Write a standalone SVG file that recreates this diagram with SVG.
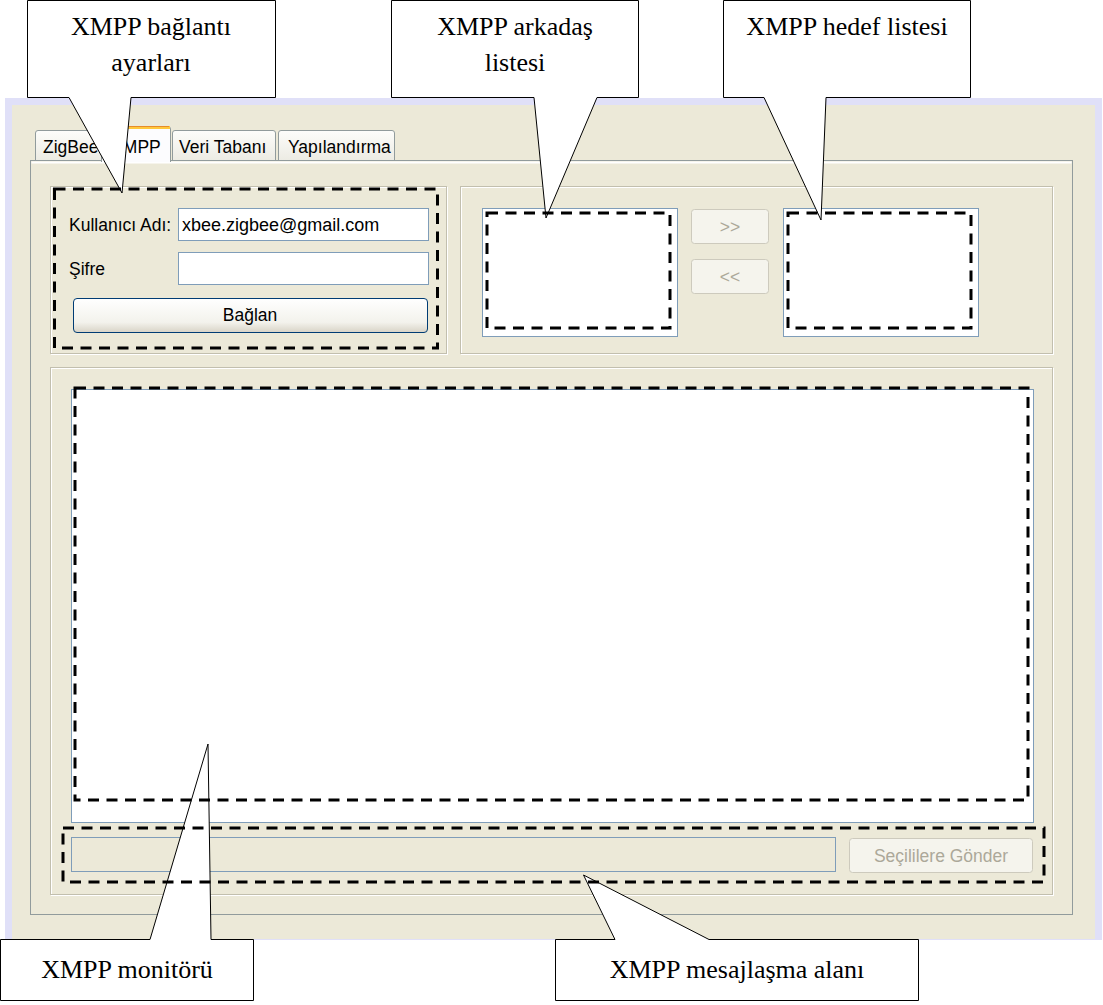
<svg xmlns="http://www.w3.org/2000/svg" width="1103" height="1005" viewBox="0 0 1103 1005">
<defs>
<linearGradient id="tabg" x1="0" y1="0" x2="0" y2="1"><stop offset="0" stop-color="#fdfdfb"/><stop offset="1" stop-color="#ecebe3"/></linearGradient>
<linearGradient id="btng" x1="0" y1="0" x2="0" y2="1"><stop offset="0" stop-color="#ffffff"/><stop offset="0.7" stop-color="#f3f2ec"/><stop offset="1" stop-color="#d8d3c6"/></linearGradient>
</defs>
<style>
.ui{font-family:"Liberation Sans",Arial,sans-serif;font-size:17.5px;fill:#000}
.mid{text-anchor:middle}
.dis{fill:#aca899}
.call{fill:#fff;stroke:#000;stroke-width:1}
.ct{font-family:"Liberation Serif","Times New Roman",serif;font-size:26px;fill:#000;text-anchor:middle}
.dash{fill:none;stroke:#000;stroke-width:3;stroke-dasharray:11 7.5}
.field{fill:#fff;stroke:#7f9db9}
.grp{fill:none;stroke:#c2bfae}
.grpw{fill:none;stroke:#fff}
.tab{stroke:#919b9c;fill:url(#tabg)}
.btnd{fill:#f5f4ed;stroke:#cdcabd}
</style>

<g id="window">
<rect x="5" y="98" width="1097" height="842" fill="#e0e0f8"/>
<rect x="12" y="105" width="1083" height="834" fill="#ece9d8"/>
</g>

<g id="tabs">
<path class="tab" d="M35.5,160.5 V133 Q35.5,130.5 38,130.5 H100 Q102.5,130.5 102.5,133 V160.5"/>
<path class="tab" d="M172.5,160.5 V133 Q172.5,130.5 175,130.5 H273 Q275.5,130.5 275.5,133 V160.5"/>
<path class="tab" d="M278.5,160.5 V133 Q278.5,130.5 281,130.5 H392 Q394.5,130.5 394.5,133 V160.5"/>
<rect x="30.5" y="160.5" width="1042" height="754" fill="#ece9d8" stroke="#919b9c"/>
<path d="M31.5,162.5 H1071.5" stroke="#fff" stroke-width="2"/>
<path d="M101.5,162 V129 Q101.5,126.5 104,126.5 H168 Q170.5,126.5 170.5,129 V162" fill="#fcfcfe" stroke="#919b9c"/>
<rect x="102" y="126" width="68" height="3" fill="#ffc83c"/>
<rect x="103" y="126" width="66" height="1" fill="#e68b2c"/>
<text class="ui" x="43" y="153">ZigBee</text>
<text class="ui mid" x="136" y="153">XMPP</text>
<text class="ui" x="179" y="153">Veri Tabanı</text>
<text class="ui" x="288" y="153">Yapılandırma</text>
</g>

<g id="connection-settings">
<rect class="grpw" x="51.5" y="187.5" width="396" height="167"/>
<rect class="grp" x="50.5" y="186.5" width="396" height="167"/>
<text class="ui" x="69" y="231">Kullanıcı Adı:</text>
<rect class="field" x="178.5" y="208.5" width="250" height="32"/>
<text class="ui" x="182" y="231" style="font-size:18px">xbee.zigbee@gmail.com</text>
<text class="ui" x="69" y="275">Şifre</text>
<rect class="field" x="178.5" y="252.5" width="250" height="32"/>
<rect x="73.5" y="298.5" width="354" height="34" rx="3.5" fill="url(#btng)" stroke="#003c74"/>
<text class="ui mid" x="250" y="321">Bağlan</text>
</g>

<g id="lists">
<rect class="grpw" x="461.5" y="187.5" width="592" height="167"/>
<rect class="grp" x="460.5" y="186.5" width="592" height="167"/>
<rect class="field" x="482.5" y="208.5" width="195" height="128"/>
<rect class="btnd" x="691.5" y="209.5" width="77" height="34" rx="3"/>
<text class="ui mid dis" x="730" y="233">&gt;&gt;</text>
<rect class="btnd" x="691.5" y="259.5" width="77" height="34" rx="3"/>
<text class="ui mid dis" x="730" y="283">&lt;&lt;</text>
<rect class="field" x="783.5" y="208.5" width="195" height="128"/>
</g>

<g id="monitor-group">
<rect class="grpw" x="51.5" y="368.5" width="1002" height="527"/>
<rect class="grp" x="50.5" y="367.5" width="1002" height="527"/>
<rect class="field" x="71.5" y="389.5" width="962" height="433"/>
<rect x="71.5" y="837.5" width="764" height="34" fill="#ece9d8" stroke="#7f9db9"/>
<rect class="btnd" x="849.5" y="838.5" width="183" height="34" rx="3"/>
<text class="ui mid dis" x="941" y="862">Seçililere Gönder</text>
</g>

<g id="callout-baglanti">
<path class="call" d="M27.5,0.5 H275.5 V97.5 H131 L122,193 L69,97.5 H27.5 Z"/>
<text class="ct" x="151" y="35">XMPP bağlantı</text>
<text class="ct" x="151" y="71">ayarları</text>
</g>
<g id="callout-arkadas">
<path class="call" d="M391.5,0.5 H638.5 V97.5 H597 L546,218 L534,97.5 H391.5 Z"/>
<text class="ct" x="515" y="35">XMPP arkadaş</text>
<text class="ct" x="515" y="71">listesi</text>
</g>
<g id="callout-hedef">
<path class="call" d="M723.5,0.5 H970.5 V97.5 H826 L821,220 L764,97.5 H723.5 Z"/>
<text class="ct" x="847" y="35">XMPP hedef listesi</text>
</g>
<g id="callout-monitor">
<path class="call" d="M0.5,939.5 H150 L208,744 L211,939.5 H253.5 V1000.5 H0.5 Z"/>
<text class="ct" x="127" y="978">XMPP monitörü</text>
</g>
<g id="callout-mesaj">
<path class="call" d="M555.5,939.5 H615 L583.5,875 L709,939.5 H918.5 V1000.5 H555.5 Z"/>
<text class="ct" x="737" y="978">XMPP mesajlaşma alanı</text>
</g>

<g id="connectors">
<rect class="dash" x="54.5" y="189" width="383" height="159"/>
<rect class="dash" x="487" y="213" width="183" height="115"/>
<rect class="dash" x="788" y="213" width="183" height="115"/>
<rect class="dash" x="75" y="388" width="953" height="412"/>
<rect class="dash" x="63" y="828" width="981" height="54"/>
</g>
</svg>
